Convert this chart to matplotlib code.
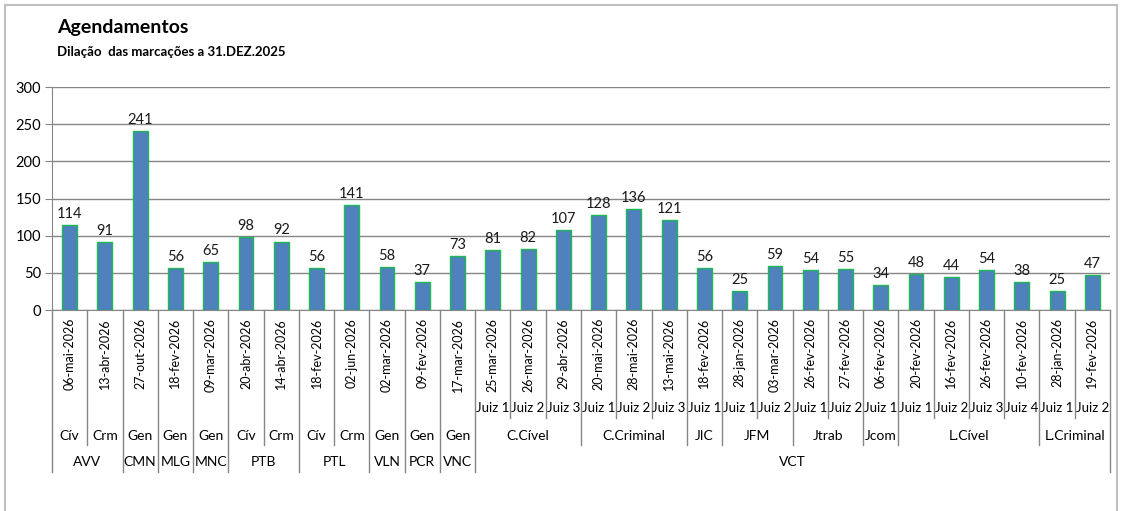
import matplotlib
matplotlib.use("Agg")
import matplotlib.pyplot as plt
from matplotlib.transforms import blended_transform_factory
from matplotlib.lines import Line2D
from matplotlib.patches import Rectangle

plt.rcParams['font.family'] = ['Lato', 'DejaVu Sans']

# data
values = [114, 91, 241, 56, 65, 98, 92, 56, 141, 58, 37, 73,
          81, 82, 107, 128, 136, 121, 56, 25, 59, 54, 55, 34, 48, 44, 54, 38, 25, 47]
dates = ['06-mai-2026', '13-abr-2026', '27-out-2026', '18-fev-2026', '09-mar-2026',
         '20-abr-2026', '14-abr-2026', '18-fev-2026', '02-jun-2026', '02-mar-2026',
         '09-fev-2026', '17-mar-2026',
         '25-mar-2026', '26-mar-2026', '29-abr-2026', '20-mai-2026', '28-mai-2026',
         '13-mai-2026', '18-fev-2026', '28-jan-2026', '03-mar-2026', '26-fev-2026',
         '27-fev-2026', '06-fev-2026', '20-fev-2026', '16-fev-2026', '26-fev-2026',
         '10-fev-2026', '28-jan-2026', '19-fev-2026']
# lowest level (judges, only inside VCT)
lvl1 = [''] * 12 + ['Juiz 1', 'Juiz 2', 'Juiz 3', 'Juiz 1', 'Juiz 2', 'Juiz 3',
                    'Juiz 1', 'Juiz 1', 'Juiz 2', 'Juiz 1', 'Juiz 2', 'Juiz 1',
                    'Juiz 1', 'Juiz 2', 'Juiz 3', 'Juiz 4', 'Juiz 1', 'Juiz 2']
lvl2 = ['Cív', 'Crm', 'Gen', 'Gen', 'Gen', 'Cív', 'Crm', 'Cív', 'Crm', 'Gen', 'Gen', 'Gen'] + \
       ['C.Cível'] * 3 + ['C.Criminal'] * 3 + ['JIC'] + ['JFM'] * 2 + ['Jtrab'] * 2 + \
       ['Jcom'] + ['L.Cível'] * 4 + ['L.Criminal'] * 2
lvl3 = ['AVV', 'AVV', 'CMN', 'MLG', 'MNC', 'PTB', 'PTB', 'PTL', 'PTL', 'VLN', 'PCR', 'VNC'] + \
       ['VCT'] * 18

W, H = 1122, 511
fig = plt.figure(figsize=(W / 100, H / 100), dpi=100)
x0, x1, ytop, ybot = 52, 1110, 87, 310
ax = fig.add_axes([x0 / W, 1 - ybot / H, (x1 - x0) / W, (ybot - ytop) / H])

n = len(values)
xs = list(range(n))
gray = '#868686'

ax.bar(xs, values, width=0.42, color='#4F81BD', edgecolor='#1DB954', linewidth=1.0, zorder=3)
for x, v in zip(xs, values):
    ax.annotate(str(v), (x, v), xytext=(0, 3), textcoords='offset points',
                ha='center', va='bottom', fontsize=10.5, color='#1a1a1a')

ax.set_xlim(-0.5, n - 0.5)
ax.set_ylim(0, 300)
ax.set_yticks(range(0, 301, 50))
ax.tick_params(axis='y', length=5, color=gray, labelsize=10.5, pad=3)
ax.set_xticks([])
ax.grid(axis='y', color=gray, linewidth=1, zorder=0)
for s in ['top', 'right']:
    ax.spines[s].set_visible(False)
ax.spines['left'].set_color(gray)
ax.spines['bottom'].set_color(gray)

# multi-level category axis
tr = blended_transform_factory(ax.transData, fig.transFigure)
def fy(py):
    return 1 - py / H

for x, d in zip(xs, dates):
    ax.text(x, fy(318), d, transform=tr, rotation=90, ha='center', va='top', fontsize=9)

def runs(keys):
    out = []
    start = 0
    for i in range(1, n + 1):
        if i == n or keys[i] != keys[start]:
            out.append((start, i - 1))
            start = i
    return out

for a, b in runs(list(zip(lvl3, lvl2, lvl1))):
    if lvl1[a]:
        ax.text((a + b) / 2, fy(408), lvl1[a], transform=tr, ha='center', va='center', fontsize=9.5)
for a, b in runs(list(zip(lvl3, lvl2))):
    ax.text((a + b) / 2, fy(436), lvl2[a], transform=tr, ha='center', va='center', fontsize=10)
for a, b in runs(lvl3):
    ax.text((a + b) / 2, fy(462), lvl3[a], transform=tr, ha='center', va='center', fontsize=10)

for i in range(n + 1):
    if i == 0 or i == n or lvl3[i] != lvl3[i - 1]:
        yb = 472
    elif lvl2[i] != lvl2[i - 1]:
        yb = 445
    else:
        yb = 418
    ax.add_line(Line2D([i - 0.5, i - 0.5], [fy(ybot), fy(yb)], transform=tr,
                       color=gray, linewidth=1, clip_on=False))

# titles
fig.text(57 / W, fy(28), 'Agendamentos', fontsize=14, fontweight='bold', va='center', ha='left')
fig.text(57 / W, fy(52), 'Dilação  das marcações a 31.DEZ.2025', fontsize=9.5, fontweight='bold',
         va='center', ha='left')

# chart border
fig.patches.append(Rectangle((5 / W, -0.05), (1117 - 5) / W, fy(5) + 0.05, transform=fig.transFigure,
                             fill=False, edgecolor='#BFBFBF', linewidth=1.5))

fig.savefig('out.png', dpi=100)
